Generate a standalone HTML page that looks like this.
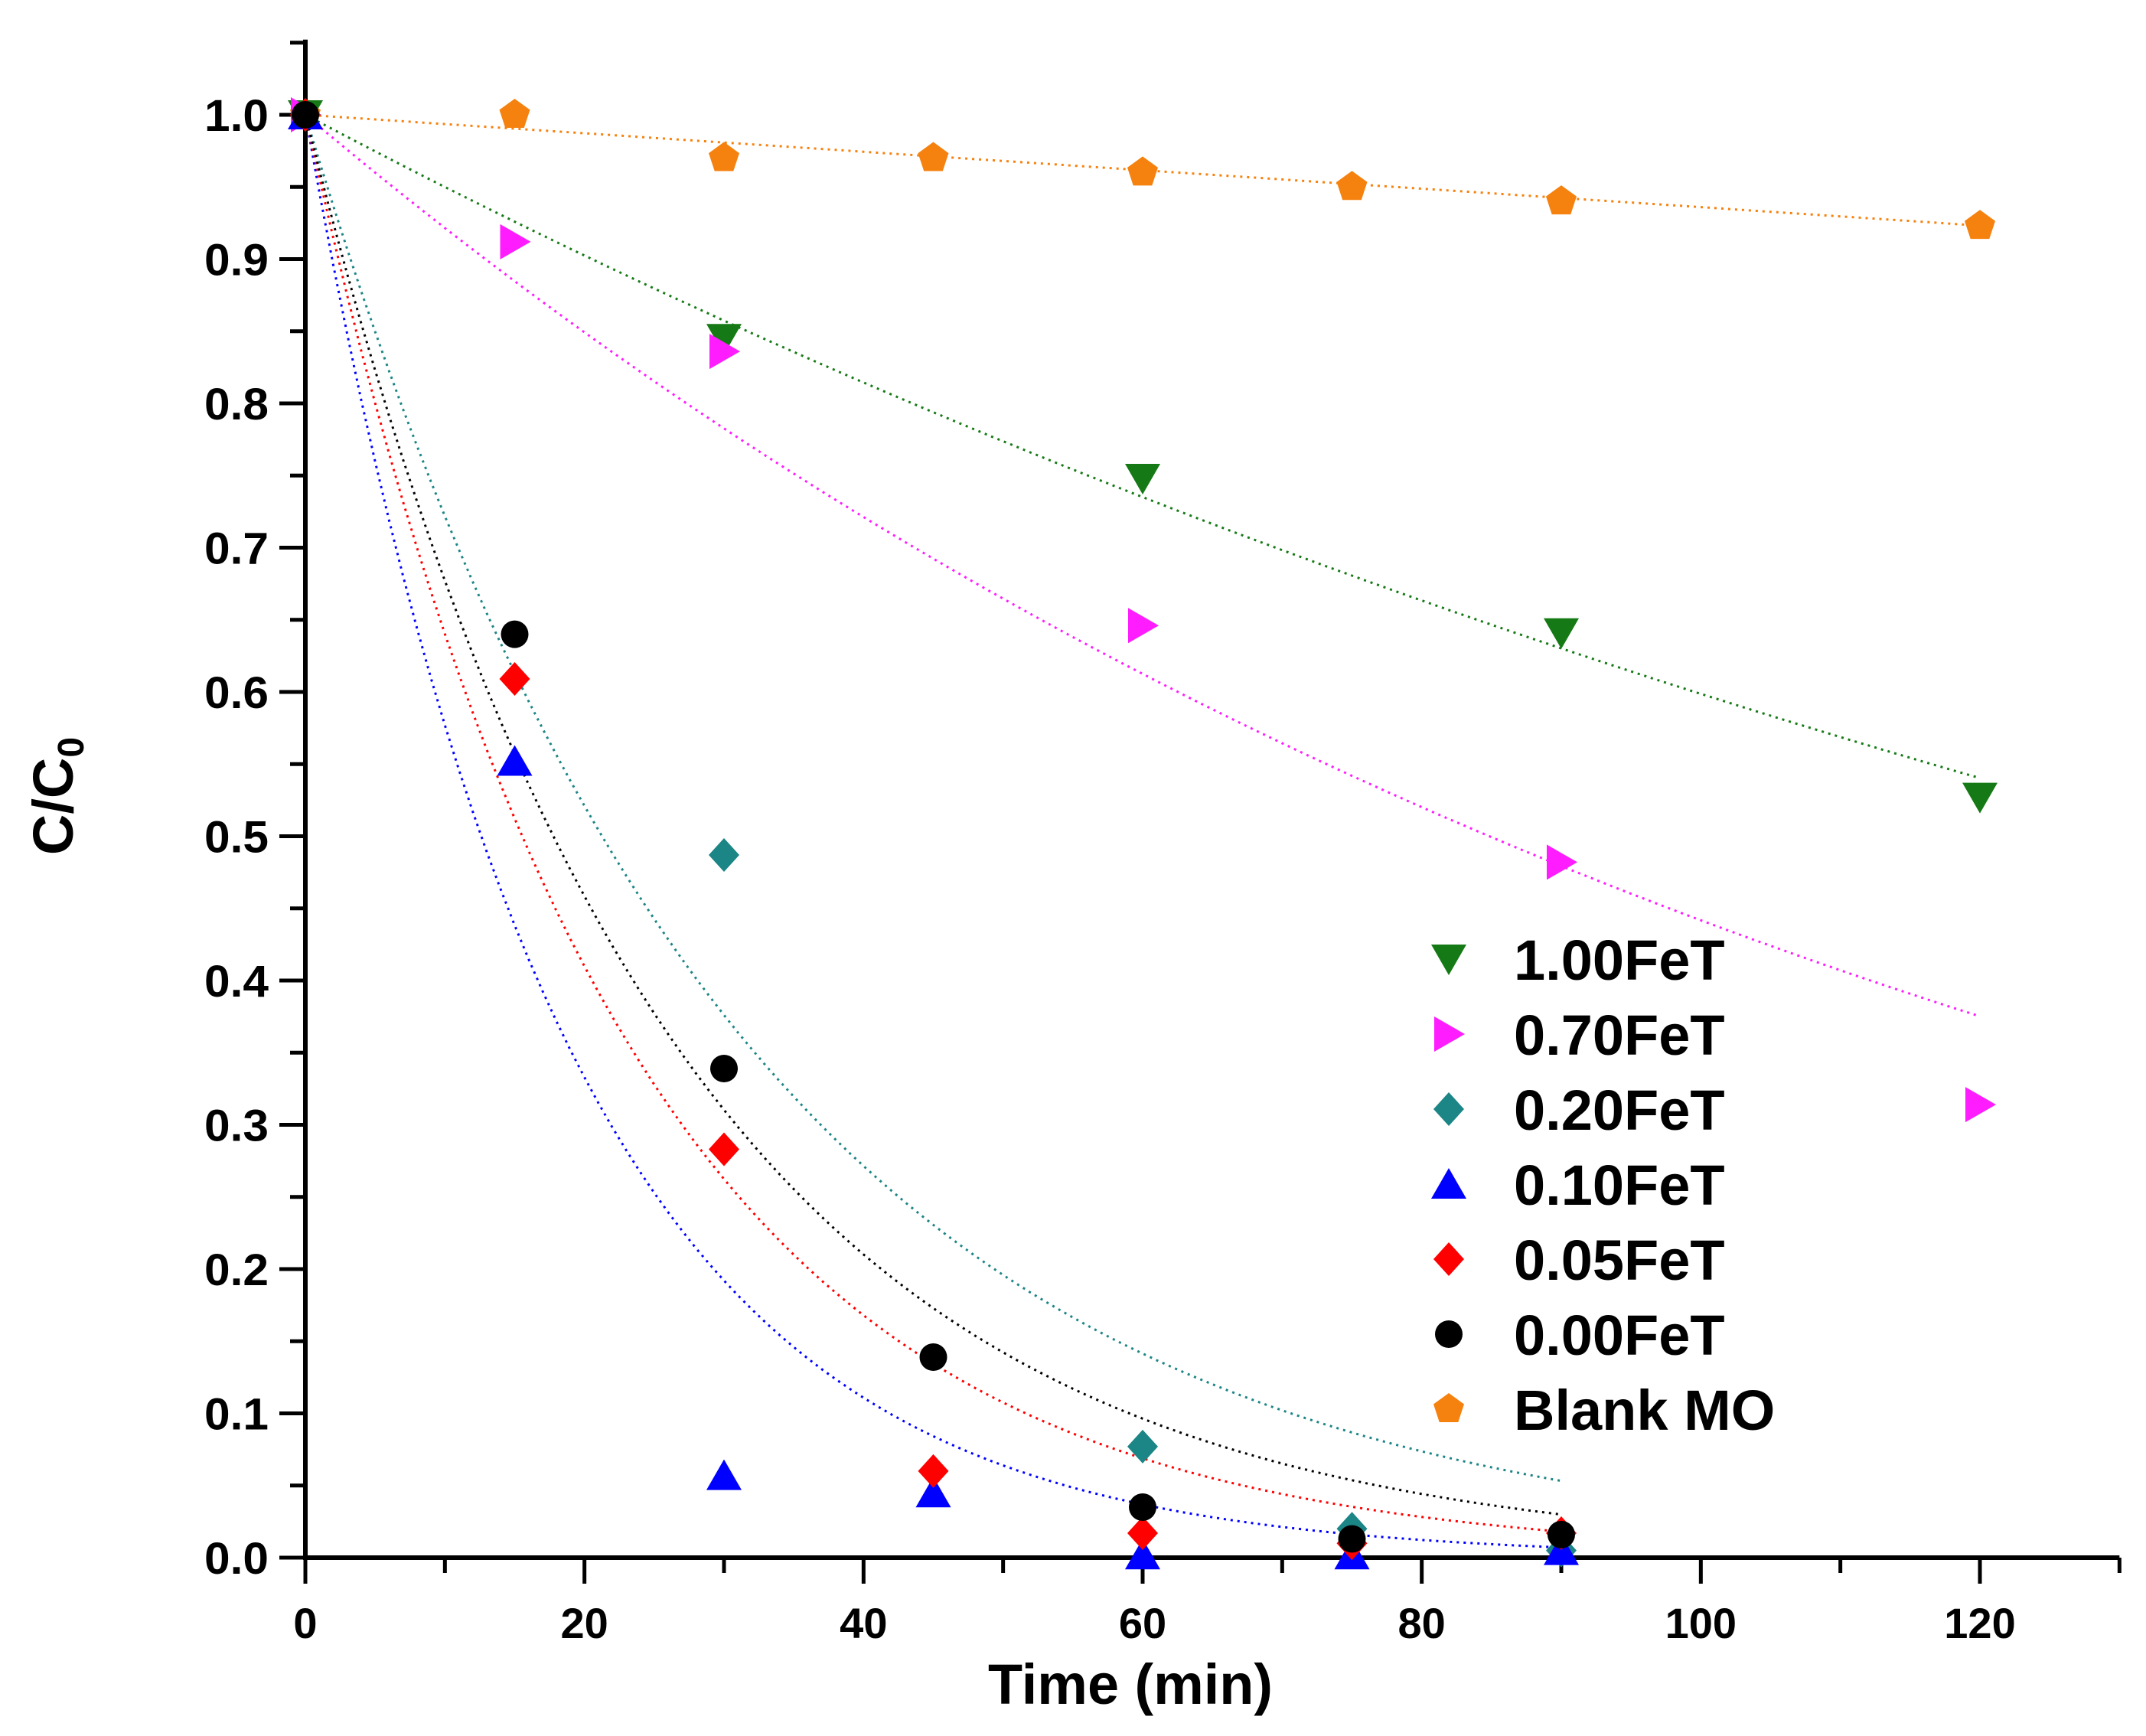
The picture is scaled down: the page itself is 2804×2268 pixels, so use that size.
<!DOCTYPE html>
<html><head><meta charset="utf-8"><style>
html,body{margin:0;padding:0;background:#fff;}
svg{display:block;}
text{font-family:"Liberation Sans",Arial,sans-serif;font-weight:bold;fill:#000;}
</style></head><body>
<svg id="chart" width="2804" height="2268" viewBox="0 0 2804 2268" xmlns="http://www.w3.org/2000/svg">
<g id="fits"></g>
<g id="axes"></g>
<g id="marks"></g>
<g id="legend"></g>
<text x="1477" y="2226" font-size="74" text-anchor="middle" textLength="372" lengthAdjust="spacingAndGlyphs">Time (min)</text>
<text transform="translate(95,1040) rotate(-90)" font-size="74" text-anchor="middle">C/C<tspan font-size="48" dy="14">0</tspan></text>
</svg>
<script>
const seriesNames = ["1.00FeT","0.70FeT","0.20FeT","0.10FeT","0.05FeT","0.00FeT","Blank MO"];
const seriesColors = ["#157a15","#ff1cff","#1c8585","#0000ff","#ff0000","#000000","#f5820f"];
const seriesShapes = ["down","right","diamond","up","diamond","circle","pentagon"];
const timesFeT100 = [0,30,60,90,120];
const valsFeT100 = [1,0.845,0.748,0.641,0.527];
const timesFeT070 = [0,15,30,60,90,120];
const valsFeT070 = [1,0.912,0.836,0.646,0.482,0.314];
const timesFeT020 = [0,30,60,75,90];
const valsFeT020 = [1,0.487,0.077,0.02,0.005];
const timesFeT010 = [0,15,30,45,60,75,90];
const valsFeT010 = [1,0.552,0.057,0.045,0.002,0.002,0.005];
const timesFeT005 = [0,15,30,45,60,75,90];
const valsFeT005 = [1,0.609,0.283,0.06,0.017,0.01,0.017];
const timesFeT000 = [0,15,30,45,60,75,90];
const valsFeT000 = [1,0.64,0.339,0.139,0.035,0.013,0.016];
const timesBlank = [0,15,30,45,60,75,90,120];
const valsBlank = [1,1.0,0.97,0.97,0.96,0.95,0.94,0.923];
// fit curves: exponential decay rates (blank is linear slope)
const fitRates = [0.00513,0.00817,0.0326,0.055,0.0446,0.039,0.00064];
const fitEnds = [120,120,90,90,90,90,120];
const xTicks = [0,20,40,60,80,100,120];
const yTicks = [0.0,0.1,0.2,0.3,0.4,0.5,0.6,0.7,0.8,0.9,1.0];

const NS="http://www.w3.org/2000/svg";
const X0=399, XS=(2587-399)/120, Y0=2035, YS=(2035-150)/1.0;
const xs=t=>X0+t*XS, ys=v=>Y0-v*YS;
function mk(tag,attrs,parent){const e=document.createElementNS(NS,tag);for(const k in attrs)e.setAttribute(k,attrs[k]);parent.appendChild(e);return e;}
const axes=document.getElementById('axes'),marks=document.getElementById('marks'),fits=document.getElementById('fits'),legend=document.getElementById('legend');

// axes
let yl=mk('line',{x1:X0,y1:ys(1.05)-4,x2:X0,y2:Y0+2,stroke:'#000','stroke-width':6},axes);


let xl=mk('line',{x1:X0-3,y1:Y0,x2:xs(130),y2:Y0,stroke:'#000','stroke-width':6},axes);


for(let t=0;t<=130;t+=10){const major=t%20===0;
 const tk=mk('line',{x1:xs(t),y1:Y0,x2:xs(t),y2:Y0+(major?34:20),stroke:'#000','stroke-width':5},axes);
 
 }
xTicks.forEach(t=>{const tx=mk('text',{x:xs(t),y:Y0+105,'font-size':56,'text-anchor':'middle'},axes);tx.textContent=t;
 
 });
for(let i=0;i<=21;i++){const v=i*0.05;const major=i%2===0;
 const tk=mk('line',{x1:X0,y1:ys(v),x2:X0-(major?34:20),y2:ys(v),stroke:'#000','stroke-width':5},axes);
 
 }
yTicks.forEach(v=>{const tx=mk('text',{x:X0-48,y:ys(v)+21,'font-size':58,'text-anchor':'end',textLength:84,lengthAdjust:'spacingAndGlyphs'},axes);tx.textContent=v.toFixed(1);
 
 });

// fits
seriesNames.forEach((n,i)=>{let d='';
 for(let t=0;t<=fitEnds[i];t+=1){const v=i===6?1-fitRates[i]*t:Math.exp(-fitRates[i]*t);d+=(t?'L':'M')+xs(t).toFixed(1)+' '+ys(v).toFixed(1);}
 const p=mk('path',{d:d,fill:'none',stroke:seriesColors[i],'stroke-width':3,'stroke-dasharray':'3 6'},fits);
 
 });

function shape(kind,cx,cy,color,parent){const r=21;let e;
 if(kind==='circle')e=mk('circle',{cx:cx,cy:cy,r:18,fill:color},parent);
 else{let pts;
  if(kind==='down')pts=[[cx-23,cy-19],[cx+23,cy-19],[cx,cy+21]];
  else if(kind==='up')pts=[[cx-23,cy+19],[cx+23,cy+19],[cx,cy-21]];
  else if(kind==='right')pts=[[cx-19,cy-23],[cx-19,cy+23],[cx+21,cy]];
  else if(kind==='diamond')pts=[[cx,cy-22],[cx+20,cy],[cx,cy+22],[cx-20,cy]];
  else{pts=[];for(let k=0;k<5;k++){const a=-Math.PI/2+k*2*Math.PI/5;pts.push([cx+r*Math.cos(a),cy+r*Math.sin(a)]);}}
  e=mk('polygon',{points:pts.map(p=>p[0].toFixed(1)+','+p[1].toFixed(1)).join(' '),fill:color},parent);}
 return e;}
const allT=[timesFeT100,timesFeT070,timesFeT020,timesFeT010,timesFeT005,timesFeT000,timesBlank];
const allV=[valsFeT100,valsFeT070,valsFeT020,valsFeT010,valsFeT005,valsFeT000,valsBlank];
[6,0,1,2,3,4,5].forEach(i=>{allT[i].forEach((t,j)=>{const e=shape(seriesShapes[i],xs(t),ys(allV[i][j]),seriesColors[i],marks);
 
 });});

seriesNames.forEach((n,i)=>{const cy=1253+98*i;
 const m=shape(seriesShapes[i],1893,cy,seriesColors[i],legend);
 
 
 const tx=mk('text',{x:1978,y:cy+27,'font-size':74},legend);tx.textContent=n;
 
 });
</script>
</body></html>
